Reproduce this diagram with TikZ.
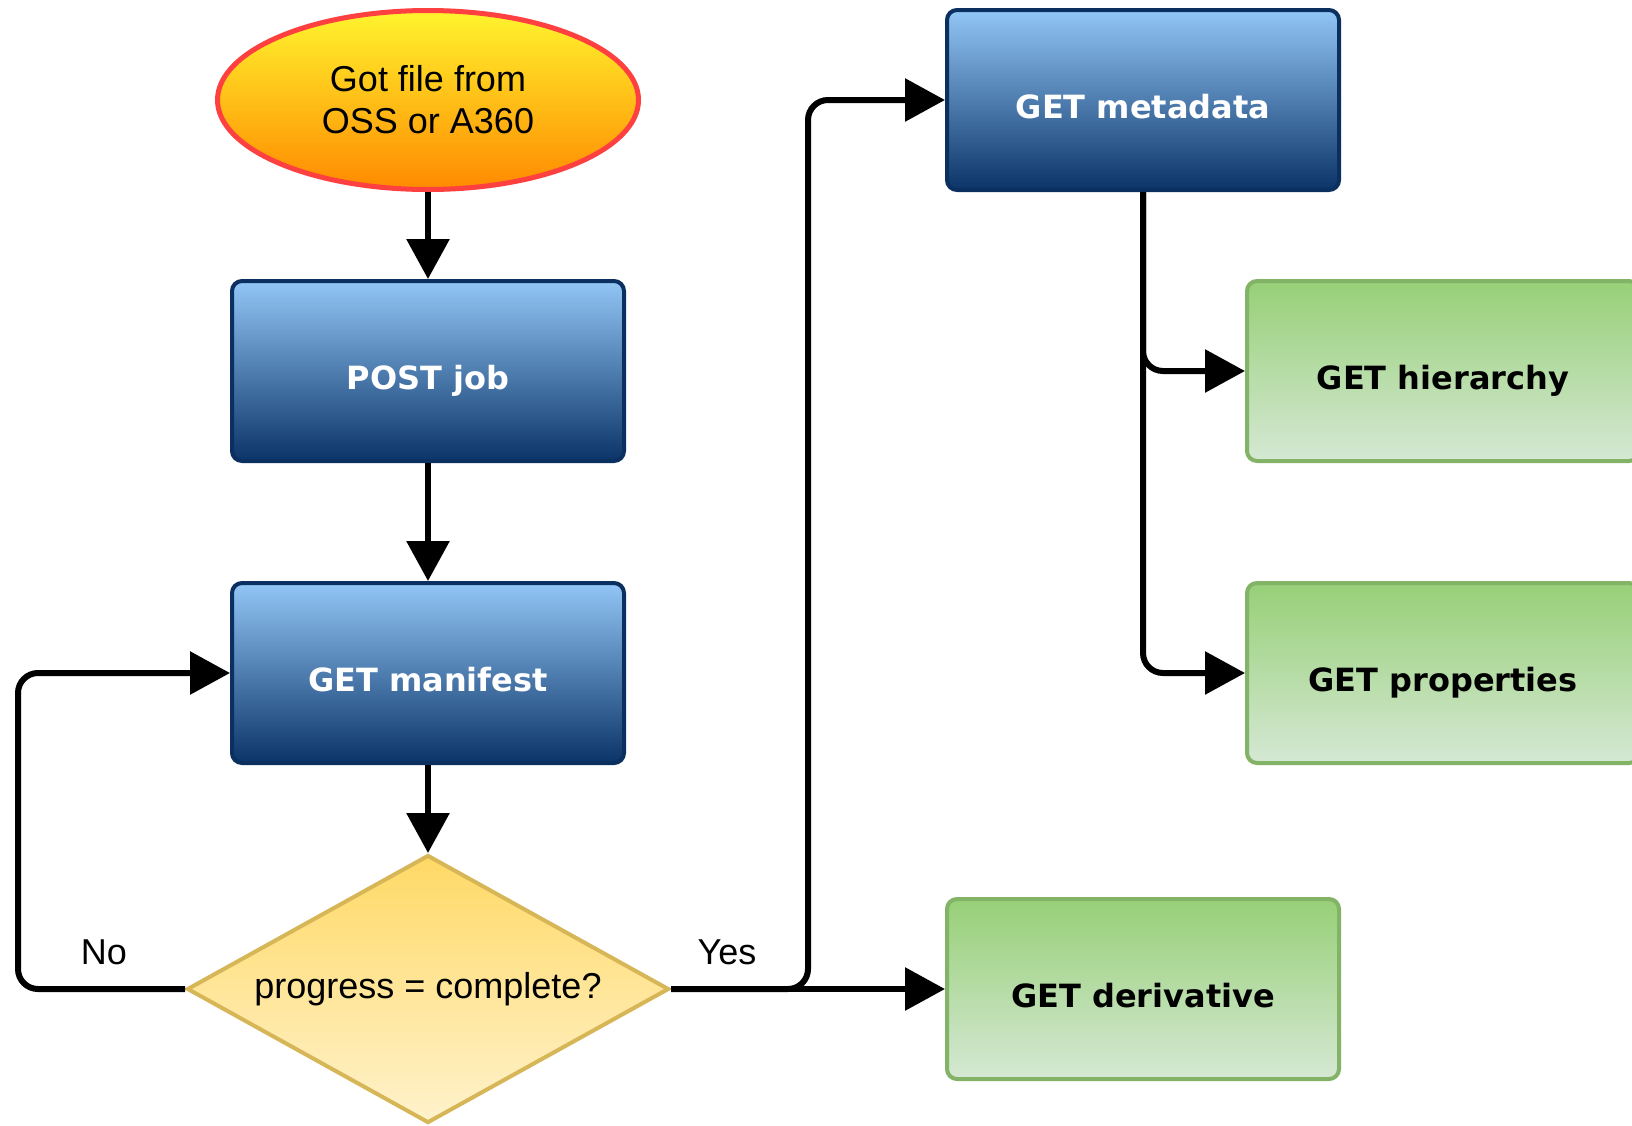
\documentclass[tikz,border=0pt]{standalone}
\usepackage{fontspec}
\setmainfont{Liberation Sans}
\newfontfamily\boxfont{DejaVu Sans}
\usetikzlibrary{shapes.geometric,arrows.meta}
\definecolor{bluetop}{HTML}{92C6F6}
\definecolor{bluebot}{HTML}{0B3468}
\definecolor{blueline}{HTML}{0B2F5E}
\definecolor{greentop}{HTML}{97D077}
\definecolor{greenbot}{HTML}{D5E8D4}
\definecolor{greenline}{HTML}{82B366}
\definecolor{dectop}{HTML}{FFD966}
\definecolor{decbot}{HTML}{FFF2CC}
\definecolor{decline}{HTML}{D6B656}
\definecolor{eltop}{HTML}{FFF42E}
\definecolor{elbot}{HTML}{FF8A00}
\definecolor{elline}{HTML}{FF4040}
\begin{document}
\begin{tikzpicture}[x=1pt,y=-1pt,
  bluebox/.style={rectangle, rounded corners=10pt, draw=blueline, line width=4pt,
    top color=bluetop, bottom color=bluebot, minimum width=392pt, minimum height=180pt,
    inner sep=0pt, text=white, text height=36pt, text depth=0pt,
    font=\boxfont\bfseries\fontsize{32}{38}\selectfont},
  greenbox/.style={rectangle, rounded corners=10pt, draw=greenline, line width=4pt,
    top color=greentop, bottom color=greenbot, minimum width=392pt, minimum height=180pt,
    inner sep=0pt, text=black, text height=36pt, text depth=0pt,
    font=\boxfont\bfseries\fontsize{32}{38}\selectfont},
  startel/.style={ellipse, draw=elline, line width=5pt, top color=eltop, bottom color=elbot,
    minimum width=421pt, minimum height=179pt, inner sep=0pt, align=center,
    font=\fontsize{36}{42}\selectfont},
  decbox/.style={diamond, draw=decline, line width=4pt, top color=dectop, bottom color=decbot,
    minimum width=482pt, minimum height=268pt, inner sep=0pt, aspect=1.8,
    font=\fontsize{36}{42}\selectfont},
  conn/.style={line width=6pt, rounded corners=20pt, -{Triangle[length=40pt,width=42pt]}},
  lbl/.style={font=\fontsize{36}{42}\selectfont, inner sep=0pt}
]
\useasboundingbox (0,0) rectangle (1632,1125);
\clip (0,0) rectangle (1632,1125);

\node[startel] (el) at (428,100) {Got file from\\OSS or A360};
\node[bluebox] (post) at (428,371) {POST job};
\node[bluebox] (man) at (428,673) {GET manifest};
\node[decbox] (dec) at (428,989) {progress = complete?};
\node[bluebox] (meta) at (1143,100) {GET metadata};
\node[greenbox] (hier) at (1443,371) {GET hierarchy};
\node[greenbox] (prop) at (1443,673) {GET properties};
\node[greenbox] (deriv) at (1143,989) {GET derivative};

\coordinate (noturn) at (18,989);
\coordinate (yesturn) at (808,989);

\draw[conn] (el) -- (post);
\draw[conn] (post) -- (man);
\draw[conn] (man) -- (dec);
\draw[conn] (dec.west) -- (noturn) |- (man.west);
\draw[conn] (dec.east) -- (deriv.west);
\draw[conn] (dec.east) -- (yesturn) |- (meta.west);
\draw[conn] (meta.south) |- (hier.west);
\draw[conn] (meta.south) |- (prop.west);

\node[lbl] (no) at (104,952) {No};
\node[lbl] (yes) at (727,952) {Yes};
\end{tikzpicture}
\end{document}
